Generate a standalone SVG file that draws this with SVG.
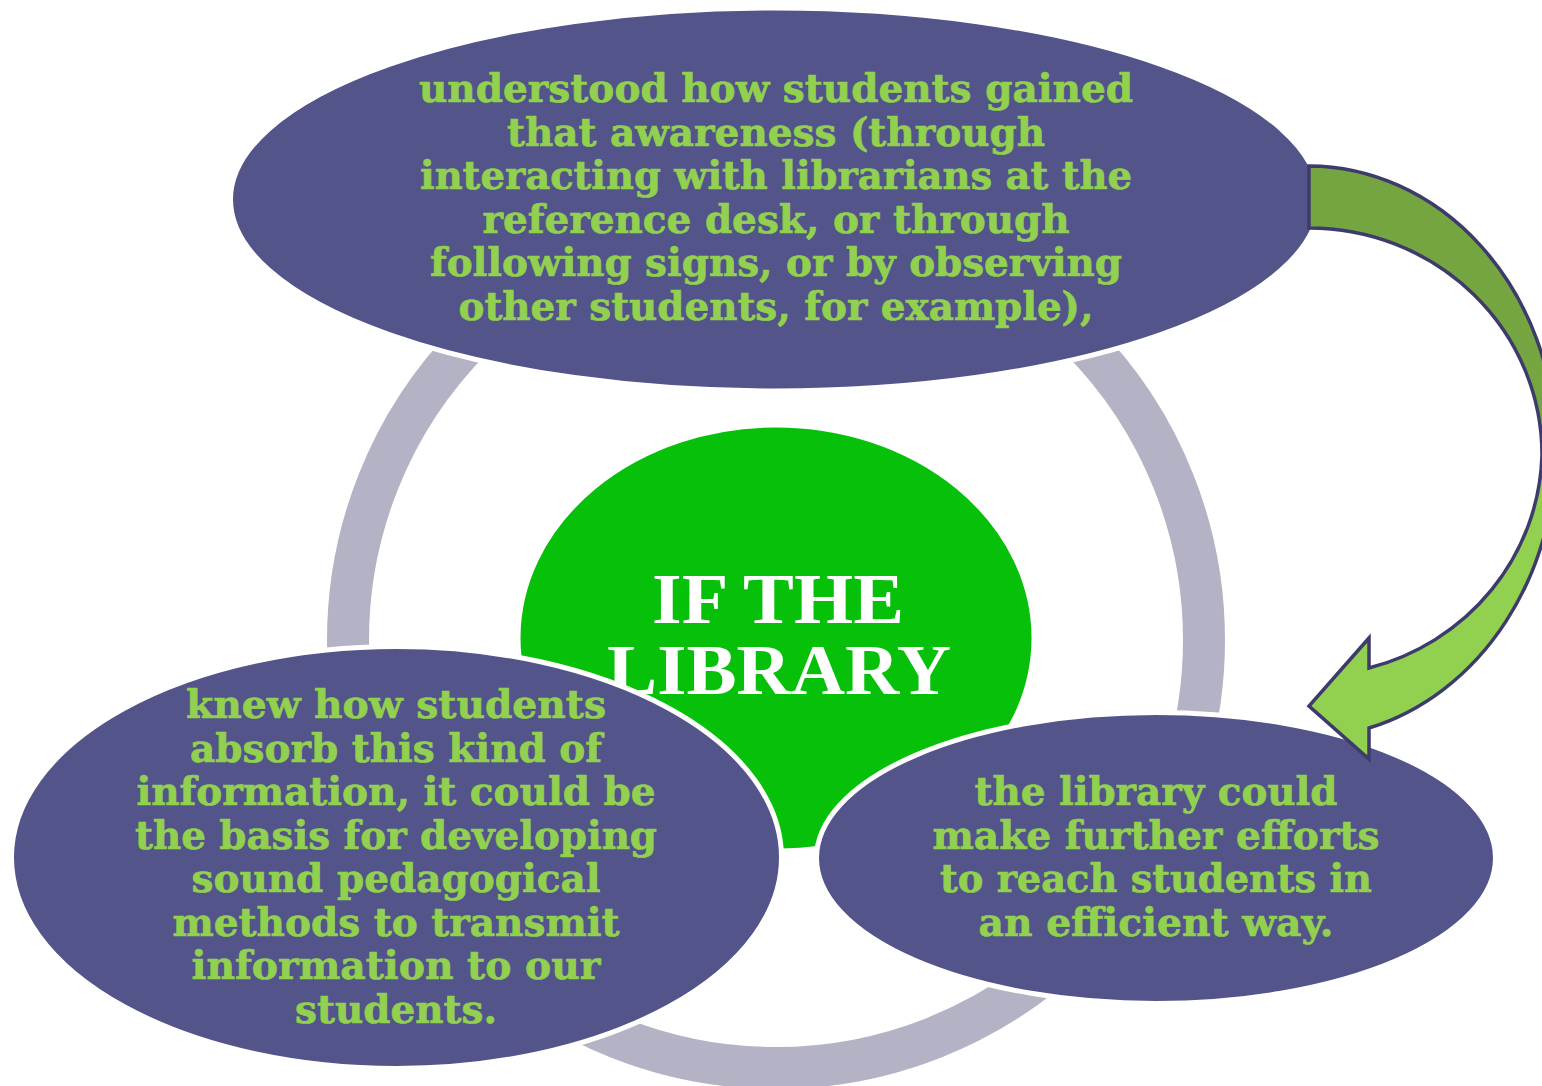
<svg xmlns="http://www.w3.org/2000/svg" width="1542" height="1086" viewBox="0 0 1542 1086">
<style>
.node{fill:#52548A;stroke:#FFFFFF;stroke-width:5}
.core{fill:#06C00A;stroke:#FFFFFF;stroke-width:5}
.t{font-family:"DejaVu Serif","Liberation Serif",serif;font-weight:bold;font-size:39px;fill:#92D050;stroke:#92D050;stroke-width:0.7;text-anchor:middle}
.c{font-family:"Liberation Serif","Times New Roman",serif;font-weight:bold;font-size:72px;fill:#FFFFFF;text-anchor:middle}
.ring{fill:none;stroke:#B3B3C5;stroke-width:42}
.arrow{stroke:#3D3B6B;stroke-width:3.5;stroke-linejoin:miter}
</style>
<defs>
<linearGradient id="ag" gradientUnits="userSpaceOnUse" x1="0" y1="166" x2="0" y2="759">
<stop offset="0" stop-color="#75A540"/>
<stop offset="0.42" stop-color="#76A641"/>
<stop offset="0.56" stop-color="#92D050"/>
<stop offset="1" stop-color="#92D050"/>
</linearGradient>
</defs>
<rect width="1542" height="1086" fill="#FFFFFF"/>
<g id="connectors">
<circle class="ring" cx="776" cy="640" r="428"/>
</g>
<g id="node-top">
<ellipse class="node" cx="775" cy="199.5" rx="544.5" ry="191.5"/>
<text class="t" x="776" y="102" textLength="714" lengthAdjust="spacingAndGlyphs">understood how students gained</text>
<text class="t" x="776" y="145.5" textLength="538" lengthAdjust="spacingAndGlyphs">that awareness (through</text>
<text class="t" x="776" y="189" textLength="712" lengthAdjust="spacingAndGlyphs">interacting with librarians at the</text>
<text class="t" x="776" y="232.5" textLength="587" lengthAdjust="spacingAndGlyphs">reference desk, or through</text>
<text class="t" x="776" y="276" textLength="692" lengthAdjust="spacingAndGlyphs">following signs, or by observing</text>
<text class="t" x="776" y="319.5" textLength="635" lengthAdjust="spacingAndGlyphs">other students, for example),</text>
</g>
<g id="node-center">
<ellipse class="core" cx="776" cy="638" rx="258" ry="213"/>
<text class="c" x="778" y="623" textLength="252" lengthAdjust="spacingAndGlyphs">IF THE</text>
<text class="c" x="779" y="694" textLength="344" lengthAdjust="spacingAndGlyphs">LIBRARY</text>
</g>
<g id="node-left">
<ellipse class="node" cx="396.5" cy="857.5" rx="385" ry="211"/>
<text class="t" x="396" y="718" textLength="420" lengthAdjust="spacingAndGlyphs">knew how students</text>
<text class="t" x="396" y="761.5" textLength="412" lengthAdjust="spacingAndGlyphs">absorb this kind of</text>
<text class="t" x="396" y="805" textLength="519" lengthAdjust="spacingAndGlyphs">information, it could be</text>
<text class="t" x="396" y="848.5" textLength="522" lengthAdjust="spacingAndGlyphs">the basis for developing</text>
<text class="t" x="396" y="892" textLength="409" lengthAdjust="spacingAndGlyphs">sound pedagogical</text>
<text class="t" x="396" y="935.5" textLength="447" lengthAdjust="spacingAndGlyphs">methods to transmit</text>
<text class="t" x="396" y="979" textLength="409" lengthAdjust="spacingAndGlyphs">information to our</text>
<text class="t" x="396" y="1022.5" textLength="202" lengthAdjust="spacingAndGlyphs">students.</text>
</g>
<g id="node-right">
<ellipse class="node" cx="1156" cy="858" rx="339.5" ry="145.5"/>
<text class="t" x="1156" y="805" textLength="363" lengthAdjust="spacingAndGlyphs">the library could</text>
<text class="t" x="1156" y="848.5" textLength="447" lengthAdjust="spacingAndGlyphs">make further efforts</text>
<text class="t" x="1156" y="892" textLength="432" lengthAdjust="spacingAndGlyphs">to reach students in</text>
<text class="t" x="1156" y="935.5" textLength="355" lengthAdjust="spacingAndGlyphs">an efficient way.</text>
</g>
<g id="connector-arrow">
<path class="arrow" fill="url(#ag)" d="M1309,166 A248,283 0 0 1 1556,440 A252,290 0 0 1 1369,728 L1369,759 L1309,706 L1369,638 L1369,668 A232,227 0 0 0 1542,455 A233,227 0 0 0 1309,228 Z"/>
</g>
</svg>
